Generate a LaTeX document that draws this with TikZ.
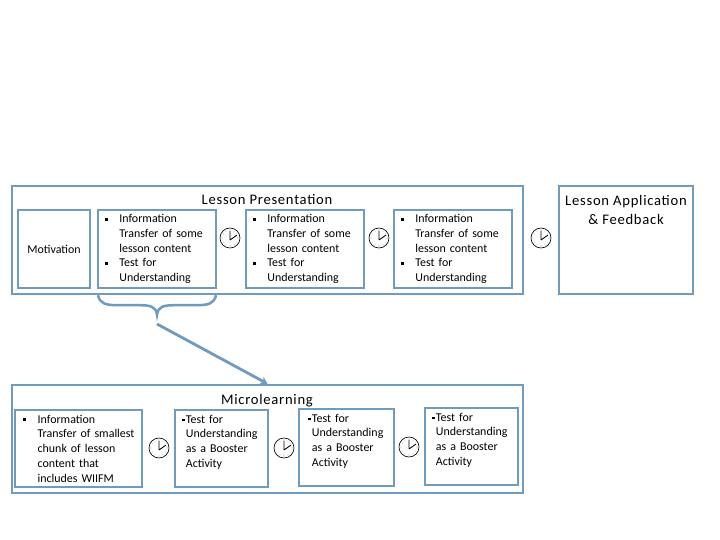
\documentclass[tikz,border=0pt]{standalone}
\usepackage{fontspec}
\setmainfont{Carlito}
\newfontfamily\titlefont[LetterSpace=5]{Carlito}
\usetikzlibrary{arrows.meta}
\definecolor{boxblue}{HTML}{6F9BC0}
\newcommand{\bl}{\makebox[10.2pt][l]{\rule[.3ex]{2.2pt}{2.2pt}}}
\newcommand{\ind}{\hspace*{10.2pt}}
\newcommand{\tbl}{\makebox[2.8pt][l]{\rule[.3ex]{2pt}{2pt}}}
\newcommand{\tind}{\hspace*{2.8pt}}
\newcommand{\testtext}[1]{\hspace*{#1pt}\tbl Test for\\\hspace*{#1pt}\tind Understanding\\\hspace*{#1pt}\tind as a Booster\\\hspace*{#1pt}\tind Activity\\~}
\tikzset{
  outerbox/.style={draw=boxblue, line width=1.8pt, minimum width=#1cm, minimum height=2.7cm},
  innerbox/.style={draw=boxblue, line width=1.5pt, minimum width=#1cm, align=left, text width=#1cm-10pt,
    inner xsep=5pt, inner ysep=0pt, font=\fontsize{8.5}{10.5}\selectfont},
  title/.style={font=\titlefont\fontsize{10.4}{13.5}\selectfont, align=center, inner sep=0pt},
  clockface/.style={draw, circle, line width=.45pt, minimum size=.5cm, inner sep=0pt}
}
\begin{document}
\begin{tikzpicture}
    \useasboundingbox (0,0) rectangle (18,13.5);

    \node[outerbox=12.775] (present) at (6.6875,7.5) {};
    \node[outerbox=3.35] (apply) at (15.65,7.5) {};
    \node[outerbox=12.775] (micro) at (6.6875,2.525) {};

    \node[title] (presenttitle) at (6.675,8.5) {Lesson Presentation};
    \node[title] (applytitle) at (15.65,8.2625) {Lesson Application\\\& Feedback};
    \node[title] (microtitle) at (6.675,3.49) {Microlearning};

    \node[innerbox=1.8, minimum height=1.95cm, align=center] (motiv) at (1.35,7.275) {Motivation};
    \foreach \nm/\cx in {infoa/3.925,infob/7.625,infoc/11.325}
      \node[innerbox=2.95, minimum height=1.95cm] (\nm) at (\cx,7.275)
        {\bl Information\\\ind Transfer of some\\\ind lesson content\\\bl Test for\\\ind Understanding};

    \node[innerbox=3.175, minimum height=1.925cm, inner xsep=5.8pt, text width=2.76cm] (smallest) at (1.9625,2.2875)
      {\bl Information\\\ind \mbox{Transfer of smallest}\\\ind chunk of lesson\\\ind content that\\\ind includes WIIFM};
    \foreach \nm/\pos/\bw/\ins in {testa/{5.5375,2.2875}/2.325/0,testb/{8.6625,2.3125}/2.375/1.4,testc/{11.7875,2.3375}/2.325/0}
      \node[innerbox=\bw, minimum height=1.925cm] (\nm) at (\pos) {\testtext{\ins}};

    \foreach \nm/\pos in {clka/{5.75,7.55},clkb/{9.475,7.55},clkc/{13.525,7.55},clkd/{3.975,2.3},clke/{7.1,2.3},clkf/{10.225,2.325}} {
      \node[clockface] (\nm) at (\pos) {};
      \foreach \ang in {0,30,...,330}
        \fill (\nm.center) +(\ang:.2) circle (.2pt);
      \draw[line width=.6pt] (\nm.center) +(0,-.05) -- +(0,.18) +(0,-.05) -- +(.17,.07);
    }

    % brace under the first block, then the arrow down to the lower frame
    \coordinate (bracel) at (2.45,6.12);
    \coordinate (bracer) at (5.4,6.12);
    \coordinate (bracetip) at (3.925,5.625);
    \coordinate (arrowstart) at (3.925,5.4);
    \draw[boxblue, line width=1.8pt] (bracel) .. controls (2.5,5.9) and (2.65,5.87) .. (2.95,5.87)
      -- (3.45,5.87) .. controls (3.75,5.87) and (3.9,5.85) .. (bracetip)
      .. controls (3.95,5.85) and (4.1,5.87) .. (4.4,5.87)
      -- (4.9,5.87) .. controls (5.2,5.87) and (5.35,5.9) .. (bracer);
    \draw[boxblue, line width=2pt, -{Stealth[length=5pt,width=6pt]}] (arrowstart) -- (micro.north);
\end{tikzpicture}
\end{document}
